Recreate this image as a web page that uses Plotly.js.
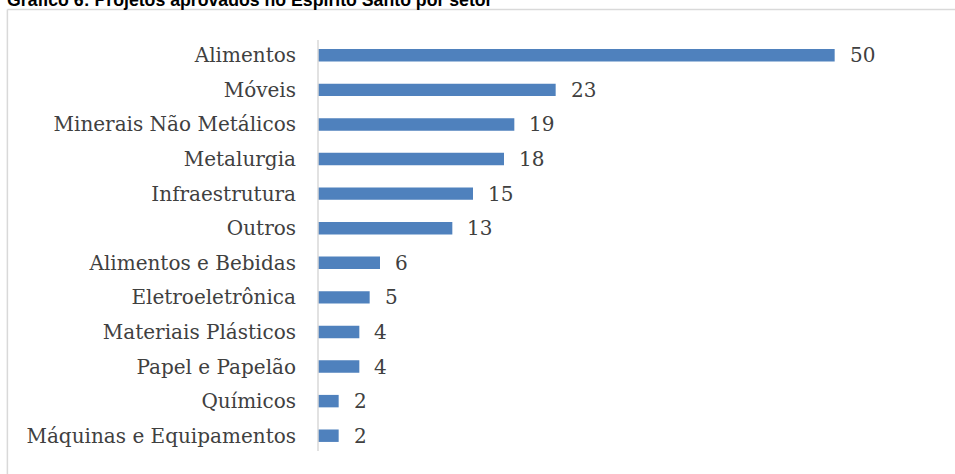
<!DOCTYPE html>
<html>
<head>
<meta charset="utf-8">
<script src="https://cdn.plot.ly/plotly-3.0.1.min.js"></script>
<style>html,body{margin:0;padding:0;background:#fff;}#chart{width:955px;height:474px;}</style>
</head>
<body>
<div id="chart"></div>
<script>
const titleText = "Gráfico 6: Projetos aprovados no Espírito Santo por setor";
const categories = ["Alimentos","Móveis","Minerais Não Metálicos","Metalurgia","Infraestrutura","Outros","Alimentos e Bebidas","Eletroeletrônica","Materiais Plásticos","Papel e Papelão","Químicos","Máquinas e Equipamentos"];
const values = [50,23,19,18,15,13,6,5,4,4,2,2];

const labelFont = {family: "DejaVu Serif", size: 20, color: "#404040"};

const trace = {
  type: "bar",
  orientation: "h",
  y: categories,
  x: values,
  marker: {color: "#4f81bd"},
  width: 0.36,
  hoverinfo: "none"
};

const annotations = values.map((v, i) => ({
  x: v, y: categories[i], xref: "x", yref: "y",
  text: String(v), showarrow: false, xanchor: "left", yanchor: "middle",
  xshift: 13, font: labelFont
}));
annotations.push({
  text: "<b>" + titleText + "</b>", xref: "paper", yref: "paper",
  x: -0.5048, y: 1.062, xanchor: "left", yanchor: "bottom",
  showarrow: false, font: {family: "Liberation Sans, Arial", size: 17.7, color: "#000"}
});

const layout = {
  width: 955, height: 474,
  margin: {l: 318, r: 17, t: 38, b: 21},
  paper_bgcolor: "#fff", plot_bgcolor: "#fff",
  showlegend: false,
  xaxis: {range: [0, 60], visible: false, fixedrange: true},
  yaxis: {
    type: "category", autorange: "reversed",
    showgrid: false, zeroline: false, showline: false,
    ticks: "", ticklabelstandoff: 21, tickfont: labelFont
  },
  shapes: [
    {type: "line", xref: "paper", yref: "paper", x0: 0, x1: 0, y0: 0.005, y1: 0.995, line: {color: "#d9d9d9", width: 1.5}},
    {type: "line", xref: "paper", yref: "paper", x0: -0.501, x1: -0.501, y0: 1.0687, y1: -0.1, line: {color: "#d9d9d9", width: 1.5}},
    {type: "line", xref: "paper", yref: "paper", x0: -0.501, x1: 1.1, y0: 1.0687, y1: 1.0687, line: {color: "#d9d9d9", width: 1.5}}
  ],
  annotations: annotations
};

Plotly.newPlot("chart", [trace], layout, {staticPlot: true, displayModeBar: false});
</script>
</body>
</html>
